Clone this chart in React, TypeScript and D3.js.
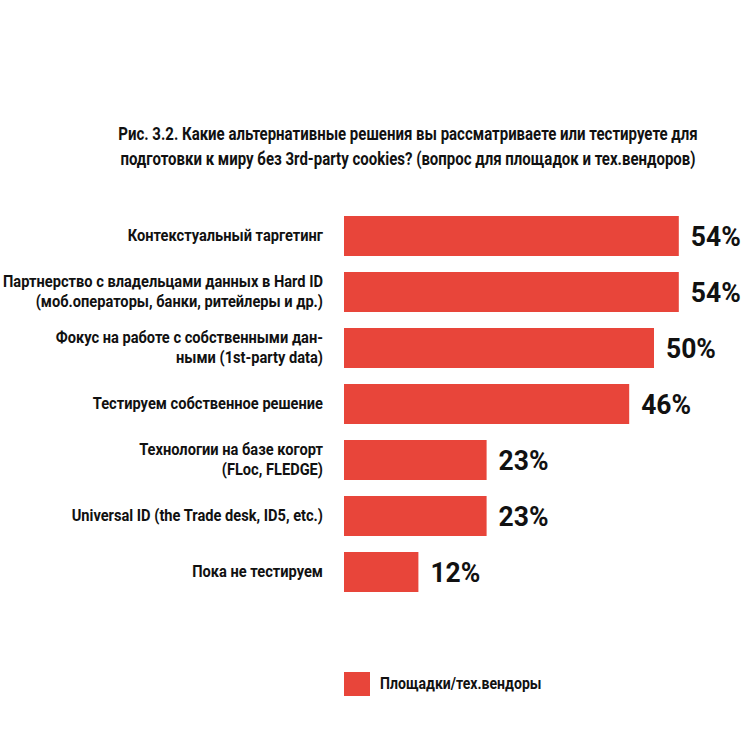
import React from "react";
import * as d3 from "d3";

const categories: string[][] = [
  ["Контекстуальный таргетинг"],
  ["Партнерство с владельцами данных в Hard ID", "(моб.операторы, банки, ритейлеры и др.)"],
  ["Фокус на работе с собственными дан-", "ными (1st-party data)"],
  ["Тестируем собственное решение"],
  ["Технологии на базе когорт", "(FLoc, FLEDGE)"],
  ["Universal ID (the Trade desk, ID5, etc.)"],
  ["Пока не тестируем"],
];
const values: number[] = [54, 54, 50, 46, 23, 23, 12];
const titleLines: string[] = [
  "Рис. 3.2. Какие альтернативные решения вы рассматриваете или тестируете для",
  "подготовки к миру без 3rd-party cookies? (вопрос для площадок и тех.вендоров)",
];
const seriesName = "Площадки/тех.вендоры";

const W = 751;
const H = 735;
const FONT = "Roboto, sans-serif";
const RED = "#e8453a";

function CText(props: {
  x: number;
  y: number;
  sx: number;
  size: number;
  anchor?: "start" | "middle" | "end";
  children: React.ReactNode;
}) {
  return (
    <text
      transform={`translate(${props.x},${props.y}) scale(${props.sx},1)`}
      fontSize={props.size}
      fontWeight="bold"
      fill="#111"
      textAnchor={props.anchor || "start"}
      dominantBaseline="central"
    >
      {props.children}
    </text>
  );
}

export default function App() {
  const x = d3.scaleLinear().domain([0, 100]).range([344, 964]);
  const y = d3
    .scaleBand<number>()
    .domain(d3.range(categories.length))
    .range([208, 600])
    .paddingInner(16 / 56)
    .paddingOuter(8 / 56);

  return (
    <svg
      width={W}
      height={H}
      viewBox={`0 0 ${W} ${H}`}
      style={{ position: "absolute", left: 0, top: 0, background: "#fff" }}
      fontFamily={FONT}
    >
      <rect width={W} height={H} fill="#fff" />
      {titleLines.map((t, i) => (
        <CText key={i} x={408} y={133 + i * 25} sx={0.79} size={19} anchor="middle">
          {t}
        </CText>
      ))}
      {values.map((v, i) => {
        const yc = (y(i) as number) + y.bandwidth() / 2;
        const lines = categories[i];
        return (
          <g key={i}>
            <rect x={x(0)} y={y(i)} width={x(v) - x(0)} height={y.bandwidth()} fill={RED} />
            {lines.map((l, j) => (
              <CText
                key={j}
                x={323}
                y={yc + (j - (lines.length - 1) / 2) * 20}
                sx={0.915}
                size={16}
                anchor="end"
              >
                {l}
              </CText>
            ))}
            <CText x={x(v) + 12} y={yc + 1} sx={0.98} size={27}>
              {`${v}%`}
            </CText>
          </g>
        );
      })}
      <rect x={344} y={672} width={26} height={24} fill={RED} />
      <CText x={380} y={684} sx={0.88} size={16}>
        {seriesName}
      </CText>
    </svg>
  );
}
